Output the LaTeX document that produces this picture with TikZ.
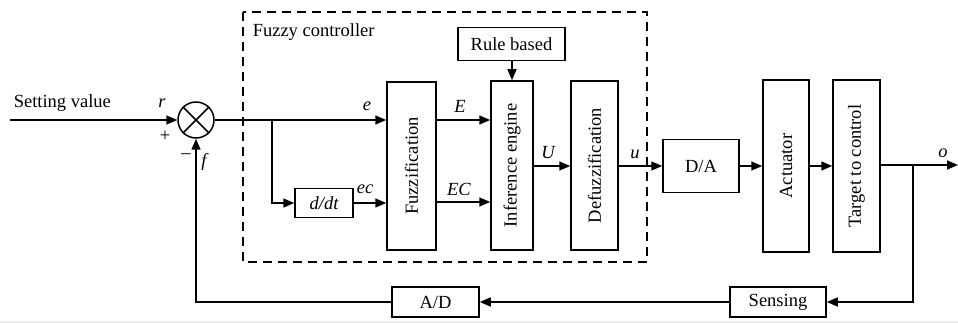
\documentclass[tikz,border=0pt]{standalone}
\usepackage{fontspec}
\setmainfont{Liberation Serif}
\usetikzlibrary{arrows.meta}
\begin{document}
\begin{tikzpicture}[x=1pt,y=-1pt,
  font=\fontsize{18.5}{22}\selectfont,
  line width=1.5pt,
  blk/.style={draw, line width=1.5pt, inner sep=0pt},
  vtext/.style={rotate=90, inner sep=0pt},
  lbl/.style={inner sep=0pt, font=\fontsize{18.5}{22}\selectfont\itshape},
  arr/.style={-{Triangle[length=11pt,width=9pt]}},
  ctrl/.style={draw, dashed, dash pattern=on 9pt off 6pt, line width=1.5pt}]
\useasboundingbox (0,0) rectangle (958,323);
\fill[black!7] (0,321) rectangle (958,323);

% fuzzy controller frame
\draw[ctrl] (243,12) rectangle (647,262);
\node[anchor=west, inner sep=0pt] (fctitle) at (252,32) {Fuzzy controller};

% summing junction
\node[draw, circle, minimum size=36pt, inner sep=0pt, line width=1.5pt] (sum) at (196,120) {};
\draw (sum.north west) -- (sum.south east) (sum.north east) -- (sum.south west);

% blocks
\node[blk, minimum width=58pt, minimum height=29pt] (ddt) at (324,203) {\itshape d/dt};
\node[blk, minimum width=49pt, minimum height=168pt] (fuz) at (411.5,166) {};
\node[vtext] at (fuz.center) {Fuzzification};
\node[blk, minimum width=42pt, minimum height=169pt] (inf) at (512,165.5) {};
\node[vtext] at (inf.center) {Inference engine};
\node[blk, minimum width=107pt, minimum height=33pt] (rule) at (511.5,44) {Rule based};
\node[blk, minimum width=47pt, minimum height=169pt] (defz) at (594.5,165.5) {};
\node[vtext] at (defz.center) {Defuzzification};
\node[blk, minimum width=76pt, minimum height=53pt] (da) at (701,166) {D/A};
\node[blk, minimum width=46pt, minimum height=172pt] (act) at (786,166) {};
\node[vtext] at (act.center) {Actuator};
\node[blk, minimum width=47pt, minimum height=172pt] (tgt) at (856.5,166) {};
\node[vtext] at (tgt.center) {Target to control};
\node[blk, minimum width=96pt, minimum height=30pt] (sens) at (778,302) {Sensing};
\node[blk, minimum width=87pt, minimum height=30pt] (ad) at (435.5,302) {A/D};

% junction points
\coordinate (in) at (10,120);
\coordinate (br1) at (272,120);
\coordinate (br2) at (913,165);
\coordinate (out) at (958,165);

% signal paths
\draw[arr] (in) -- (sum.west);
\draw (sum.east) -- (br1);
\draw[arr] (br1) -- (fuz.west |- br1);
\draw[arr] (br1) |- (ddt.west);
\draw[arr] (ddt.east) -- (fuz.west |- ddt.east);
\draw[arr] (fuz.east |- 0,120) -- (inf.west |- 0,120);
\draw[arr] (fuz.east |- 0,202) -- (inf.west |- 0,202);
\draw[arr] (rule.south -| inf.north) -- (inf.north);
\draw[arr] (inf.east |- 0,166) -- (defz.west |- 0,166);
\draw[arr] (defz.east |- 0,166) -- (da.west);
\draw[arr] (da.east) -- (act.west |- da.east);
\draw[arr] (act.east |- 0,166) -- (tgt.west |- 0,166);
\draw (tgt.east |- br2) -- (br2);
\draw[arr] (br2) -- (out);
\draw[arr] (br2) |- (sens.east);
\draw[arr] (sens.west) -- (ad.east);
\draw[arr] (ad.west) -| (sum.south);

% signal labels
\node[anchor=west, inner sep=0pt] (sv) at (13,103) {Setting value};
\node[lbl] (lr) at (162,103) {r};
\node[inner sep=0pt] (lplus) at (165,136) {+};
\node[inner sep=0pt] (lminus) at (186,156) {–};
\node[lbl] (lf) at (204,162) {f};
\node[lbl] (le) at (367,106) {e};
\node[lbl] (lec) at (365,189) {ec};
\node[lbl] (lE) at (460,106) {E};
\node[lbl] (lEC) at (459,189) {EC};
\node[lbl] (lU) at (548,153) {U};
\node[lbl] (lu) at (635,154) {u};
\node[lbl] (lo) at (943,153) {o};
\end{tikzpicture}
\end{document}
